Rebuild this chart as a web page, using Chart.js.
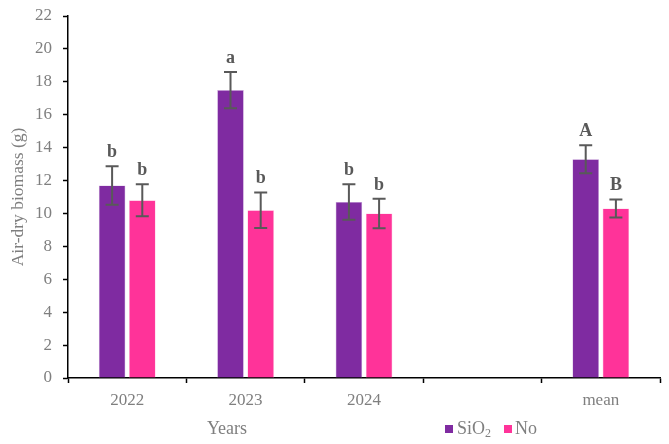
<!DOCTYPE html>
<html>
<head>
<meta charset="utf-8">
<script src="https://cdn.jsdelivr.net/npm/chart.js@4"></script>
<style>
html,body{margin:0;padding:0;background:#fff;}
#wrap{width:669px;height:444px;}
</style>
</head>
<body>
<div id="wrap"><canvas id="c" width="669" height="444"></canvas></div>
<script>
const categories = ['2022', '2023', '2024', '', 'mean'];
const seriesNames = ['SiO2', 'No'];
const sio2Values = [11.7, 17.5, 10.7, null, 13.3];
const noValues = [10.8, 10.2, 10.0, null, 10.3];
const sio2Errors = [1.17, 1.1, 1.08, null, 0.85];
const noErrors = [0.97, 1.08, 0.9, null, 0.55];
const sio2Letters = ['b', 'a', 'b', '', 'A'];
const noLetters = ['b', 'b', 'b', '', 'B'];
const yTicks = [0, 2, 4, 6, 8, 10, 12, 14, 16, 18, 20, 22];

const PURPLE = '#7F2BA1';
const PINK = '#FF3399';
const GREY = '#7f7f7f';
const DARK = '#595959';
const FONT = '"Liberation Serif", "Times New Roman", serif';

const errorPlugin = {
  id: 'errs',
  afterDatasetsDraw(chart) {
    const ctx = chart.ctx;
    const ys = chart.scales.y;
    const errs = [sio2Errors, noErrors];
    const letters = [sio2Letters, noLetters];
    chart.data.datasets.forEach((ds, di) => {
      const meta = chart.getDatasetMeta(di);
      meta.data.forEach((el, i) => {
        const v = ds.data[i];
        if (v === null || v === undefined) return;
        const e = errs[di][i];
        const top = ys.getPixelForValue(v + e);
        const bot = ys.getPixelForValue(v - e);
        const x = el.x;
        ctx.save();
        ctx.strokeStyle = DARK;
        ctx.lineWidth = 2;
        ctx.beginPath();
        ctx.moveTo(x, top); ctx.lineTo(x, bot);
        ctx.moveTo(x - 6.5, top); ctx.lineTo(x + 6.5, top);
        ctx.moveTo(x - 6.5, bot); ctx.lineTo(x + 6.5, bot);
        ctx.stroke();
        ctx.fillStyle = DARK;
        ctx.font = 'bold 18px ' + FONT;
        ctx.textAlign = 'center';
        ctx.textBaseline = 'alphabetic';
        ctx.fillText(letters[di][i], x, top - 9);
        ctx.restore();
      });
    });
  },
  afterDraw(chart) {
    const ctx = chart.ctx;
    ctx.save();
    ctx.font = '18px ' + FONT;
    ctx.fillStyle = GREY;
    ctx.textBaseline = 'middle';
    ctx.textAlign = 'center';
    ctx.fillText('Years', 227, 429);
    // legend
    ctx.textAlign = 'left';
    ctx.fillStyle = PURPLE;
    ctx.fillRect(445, 425, 8, 8);
    ctx.fillStyle = GREY;
    ctx.fillText('SiO', 457, 429);
    const w = ctx.measureText('SiO').width;
    ctx.font = '12px ' + FONT;
    ctx.fillText('2', 457 + w, 434);
    ctx.fillStyle = PINK;
    ctx.fillRect(504, 425, 8, 8);
    ctx.font = '18px ' + FONT;
    ctx.fillStyle = GREY;
    ctx.fillText(seriesNames[1], 515, 429);
    ctx.restore();
  }
};

new Chart(document.getElementById('c'), {
  type: 'bar',
  data: {
    labels: categories,
    datasets: [
      { label: seriesNames[0], data: sio2Values, backgroundColor: PURPLE, borderColor: '#c9a6dc', borderWidth: 0.6 },
      { label: seriesNames[1], data: noValues, backgroundColor: PINK, borderColor: '#ffb3d9', borderWidth: 0.6 }
    ]
  },
  options: {
    responsive: false,
    animation: false,
    devicePixelRatio: 1,
    categoryPercentage: 0.51,
    barPercentage: 0.88,
    layout: { padding: { left: 0, right: 9, top: 16, bottom: 0 } },
    plugins: { legend: { display: false }, tooltip: { enabled: false } },
    scales: {
      x: {
        grid: { drawOnChartArea: false, drawTicks: true, tickLength: 5, tickColor: '#000', tickWidth: 1.5, offset: true },
        border: { color: '#000', width: 1.5 },
        ticks: { color: GREY, font: { family: FONT, size: 17 }, padding: 7, maxRotation: 0 },
        afterFit(s) { s.height = 66; s.paddingLeft = 0; s.paddingRight = 0; }
      },
      y: {
        min: 0, max: 22,
        afterBuildTicks(s) { s.ticks = yTicks.map(v => ({ value: v })); },
        grid: { drawOnChartArea: false, drawTicks: true, tickLength: 5, tickColor: '#000', tickWidth: 1.5 },
        border: { color: '#000', width: 1.5 },
        ticks: { color: GREY, font: { family: FONT, size: 17 }, padding: 11 },
        title: { display: true, text: 'Air-dry biomass (g)', color: GREY, font: { family: FONT, size: 17.5 }, padding: { top: 8, bottom: 0 } },
        afterFit(s) { s.width = 68; s.paddingTop = 0; s.paddingBottom = 0; }
      }
    }
  },
  plugins: [errorPlugin]
});
</script>
</body>
</html>
